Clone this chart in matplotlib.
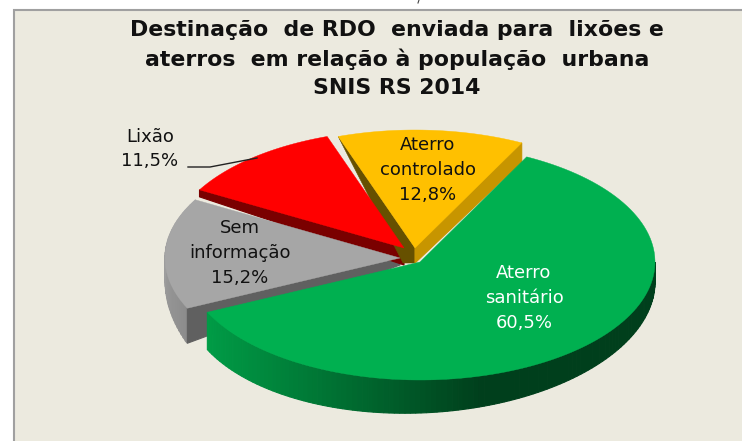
import numpy as np
import matplotlib
matplotlib.use("Agg")
from matplotlib import pyplot as plt
from matplotlib.patches import Polygon, Rectangle

# dados
labels = ["Aterro\nsanitário", "Sem\ninformação", "Lixão", "Aterro\ncontrolado"]
values = [60.5, 15.2, 11.5, 12.8]
value_text = ["60,5%", "15,2%", "11,5%", "12,8%"]
title_lines = ["Destinação  de RDO  enviada para  lixões e",
               "aterros  em relação à população  urbana",
               "SNIS RS 2014"]

top_colors = ["#00B050", "#A6A6A6", "#FF0000", "#FFC000"]
apex = [(420, 262), (400, 258), (404, 248), (415, 248)]
label_pos = [(524, 298), (240, 253), (150, 149), (428, 170)]
label_colors = ["white", "#111111", "#111111", "#111111"]
start_angle = 63
rx, ry = 235, 118

plt.rcParams["font.family"] = "DejaVu Sans"

fig = plt.figure(figsize=(7.42, 4.41), dpi=100)
ax = fig.add_axes([0, 0, 1, 1])
ax.set_xlim(0, 742)
ax.set_ylim(441, 0)
ax.axis("off")

ax.add_patch(Rectangle((14, 10), 740, 440, fc="#ECEADF", ec="#A0A0A0", lw=1.5))
ax.plot([419, 418], [0, 3], color="#444444", lw=0.8)


def pt(i, ang):
    a = np.radians(ang)
    return apex[i][0] + rx * np.cos(a), apex[i][1] - ry * np.sin(a)


def mix(c1, c2, t):
    c1, c2 = matplotlib.colors.to_rgb(c1), matplotlib.colors.to_rgb(c2)
    return tuple(a + (b - a) * t for a, b in zip(c1, c2))


def quad(p, q, dp, dq, color, z):
    ax.add_patch(Polygon([p, q, (q[0], q[1] + dq), (p[0], p[1] + dp)],
                         closed=True, fc=color, ec=color, lw=0.8, zorder=z))


# angulos de cada fatia, sentido horario
spans = [v * 3.6 for v in values]
edges = [start_angle - s for s in np.cumsum([0] + spans)]

# cinza
i = 1
a0, a1 = edges[1], edges[2]
arc = np.linspace(a0, a1, 40)
for u, v in zip(arc[:-1], arc[1:]):
    t = (u - a0) / (a1 - a0)
    d = 35 * (1 - t) + 6 * t
    quad(pt(i, u), pt(i, v), d, d, mix("#8C8C8C", "#B0B0B0", t), 1)
quad(pt(i, a0), apex[i], 35, 7, "#606060", 2)

# vermelho
i = 2
a0, a1 = edges[2], edges[3]
quad(pt(i, a0), apex[i], 7, 17, "#7A0000", 3)

# amarelo
i = 3
a0, a1 = edges[3], edges[4]
ax.add_patch(Polygon([pt(i, a0), (apex[i][0] - 12, apex[i][1] + 15), (apex[i][0], apex[i][1] + 15), apex[i]],
                     closed=True, fc="#665000", ec="#665000", lw=0.4, zorder=3))
quad(pt(i, a1), apex[i], 19, 15, "#C79500", 3)

# verde
i = 0
a0, a1 = edges[0], edges[1]
arc = np.linspace(max(a1, -180), 0, 120)
for u, v in zip(arc[:-1], arc[1:]):
    depth = [28 - 8 * np.cos(np.radians(w)) + 5 * abs(np.sin(np.radians(w))) for w in (u, v)]
    x = (pt(i, u)[0] - 212) / 445
    if x < 0.6:
        col = mix("#009A45", "#003F1C", x / 0.6)
    else:
        col = "#003F1C"
    quad(pt(i, u), pt(i, v), depth[0], depth[1], col, 4)

# faces de cima
for i in range(4):
    arc = np.linspace(edges[i], edges[i + 1], 120)
    pts = [apex[i]] + [pt(i, a) for a in arc]
    ax.add_patch(Polygon(pts, closed=True, fc=top_colors[i], ec=top_colors[i], lw=0.3, zorder=5 + (i == 0)))

# textos
for i in range(4):
    ax.text(label_pos[i][0], label_pos[i][1], labels[i] + "\n" + value_text[i], ha="center", va="center",
            fontsize=13, color=label_colors[i], linespacing=1.5, zorder=8)

ax.plot([188, 210, 257], [167, 167, 158], color="#222222", lw=1, zorder=8)

for y, line in zip([30, 59, 88], title_lines):
    ax.text(397, y, line, ha="center", va="center", fontsize=15.8, fontweight="bold", color="#111111", zorder=8)

fig.savefig("out.png", dpi=100)
